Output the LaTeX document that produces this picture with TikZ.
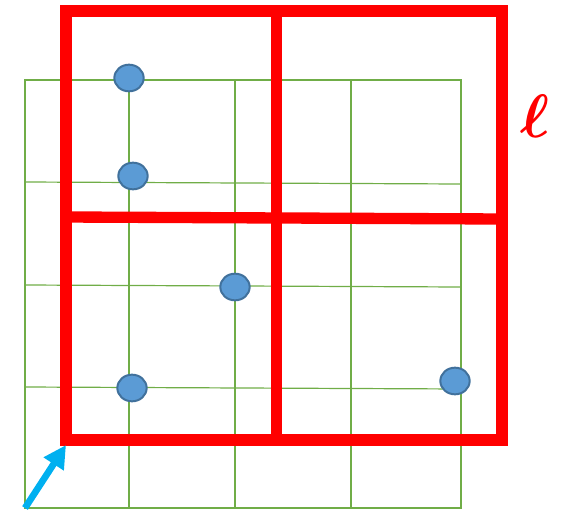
\documentclass[tikz,border=0pt]{standalone}
\usepackage{bm}
\usetikzlibrary{arrows.meta,shapes.geometric}
\definecolor{gridgreen}{HTML}{70AD47}
\definecolor{dotblue}{HTML}{5B9BD5}
\definecolor{dotrim}{HTML}{41719C}
\definecolor{arrowcyan}{HTML}{00B0F0}
\begin{document}
\begin{tikzpicture}[x=0.75pt,y=-0.75pt,
  gridline/.style={gridgreen,line width=0.9pt},
  cellline/.style={red,line width=8.5pt},
  dot/.style={ellipse,draw=dotrim,fill=dotblue,line width=1.5pt,minimum width=22pt,minimum height=20pt,inner sep=0pt}]
  \useasboundingbox (0,0) rectangle (569,511);
  % fine grid
  \begin{scope}
    \draw[gridgreen,line width=1.5pt](25,80)rectangle(461,508);
    \foreach \gx in {129,235,351} \draw[gridline](\gx,80)--(\gx,508);
    \draw[gridline](25,182)--(461,184);
    \draw[gridline](25,285)--(461,287);
    \draw[gridline](25,387)--(461,389);
  \end{scope}
  % coarse cells
  \begin{scope}
    \draw[cellline](66,11)rectangle(502,440);
    \draw[cellline](276.5,11)--(276.5,440);
    \draw[cellline](66,217)--(502,219);
    \node[red,inner sep=0pt] (ell) at (535,116) {\scalebox{4.6}{$\bm{\ell}$}};
  \end{scope}
  % points
  \node[dot] (p1) at (129,78) {};
  \node[dot] (p2) at (133,176) {};
  \node[dot] (p3) at (235,287) {};
  \node[dot] (p4) at (132,388) {};
  \node[dot] (p5) at (455,381) {};
  % shift
  \coordinate (tail) at (25,508);
  \coordinate (tip) at (66,445);
  \draw[arrowcyan,line width=5pt,-{Triangle[length=17pt,width=17pt]}](tail)--(tip);
\end{tikzpicture}
\end{document}
